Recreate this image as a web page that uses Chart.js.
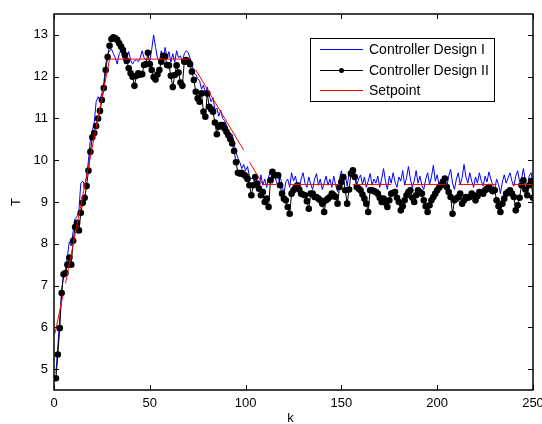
<!DOCTYPE html>
<html>
<head>
<meta charset="utf-8">
<script src="https://cdn.jsdelivr.net/npm/chart.js@4/dist/chart.umd.min.js"></script>
<style>
html,body{margin:0;padding:0;background:#fff;}
canvas{display:block;}
</style>
</head>
<body>
<canvas id="c" width="542" height="424"></canvas>
<script>
// ---- data (k starts at 1) ----
const designI = [
4.90,5.55,6.20,6.90,7.25,7.35,7.70,8.05,7.95,8.30,
8.60,8.65,8.80,9.45,9.50,9.40,9.60,10.00,10.50,10.70,
10.90,11.40,11.52,11.45,11.60,11.85,12.30,12.55,12.62,12.66,
12.55,12.45,12.30,12.55,12.62,12.45,12.30,12.45,12.60,12.40,
12.30,12.38,12.40,12.36,12.45,12.62,12.45,12.40,12.42,12.38,
12.65,13.00,12.70,12.45,12.35,12.62,12.40,12.70,12.45,12.60,
12.35,12.55,12.35,12.62,12.45,12.50,12.35,12.55,12.62,12.58,
12.45,12.30,12.10,12.05,11.95,11.90,11.70,11.80,11.60,11.75,
11.55,11.40,11.50,11.20,11.25,11.05,11.20,11.00,10.95,10.85,
10.70,10.60,10.62,10.40,10.20,10.05,9.95,9.80,9.90,9.75,
9.85,9.62,9.55,9.60,9.40,9.50,9.30,9.65,9.40,9.55,
9.35,9.60,9.75,9.45,9.70,9.50,9.35,9.62,9.42,9.20,
9.48,9.55,9.35,9.70,9.50,9.62,9.40,9.30,9.55,9.70,
9.45,9.35,9.60,9.42,9.30,9.55,9.68,9.40,9.55,9.30,
9.45,9.62,9.40,9.55,9.35,9.62,9.40,9.25,9.55,9.75,
9.50,9.65,9.38,9.70,9.80,9.55,9.72,9.40,9.55,9.65,
9.42,9.60,9.35,9.50,9.68,9.40,9.55,9.45,9.62,9.35,
9.55,9.80,9.50,9.30,9.62,9.45,9.70,9.48,9.35,9.60,
9.50,9.75,9.40,9.58,9.85,9.55,9.35,9.50,9.75,9.45,
9.62,9.40,9.30,9.55,9.70,9.42,9.60,9.88,9.50,9.65,
9.40,9.55,9.45,9.60,9.35,9.62,9.78,9.45,9.30,9.55,
9.70,9.42,9.58,9.90,9.60,9.45,9.70,9.50,9.35,9.60,
9.45,9.70,9.50,9.38,9.62,9.48,9.72,9.55,9.40,9.30,
9.55,9.42,9.20,9.48,9.65,9.45,9.58,9.70,9.50,9.38,
9.62,9.75,9.48,9.55,9.80,9.50,9.30,9.62,9.70,9.45
];
const designII = [
4.78,5.35,5.98,6.82,7.27,7.30,7.50,7.67,7.50,8.07,
8.40,8.50,8.32,8.74,8.98,9.10,9.38,9.75,10.20,10.55,
10.65,10.82,11.00,11.18,11.44,11.73,12.16,12.47,12.74,12.90,
12.94,12.92,12.88,12.80,12.72,12.64,12.52,12.38,12.20,12.08,
12.00,11.78,12.02,12.08,12.05,12.06,12.28,12.30,12.57,12.30,
12.16,11.99,11.93,12.05,12.16,12.36,12.50,12.48,12.28,12.27,
12.02,11.75,12.04,12.27,12.10,11.86,11.78,12.36,12.40,12.36,
12.30,12.12,11.92,11.64,11.48,11.40,11.60,11.16,11.04,11.60,
11.28,11.22,11.16,10.90,10.62,10.80,10.84,10.84,10.76,10.68,
10.60,10.50,10.40,10.22,9.95,9.70,9.68,9.70,9.66,9.62,
9.55,9.40,9.16,9.40,9.60,9.44,9.32,9.16,9.24,9.00,
9.08,8.88,9.52,9.72,9.64,9.64,9.64,9.40,9.20,9.08,
9.04,8.88,8.72,9.20,9.28,9.34,9.40,9.30,9.20,9.18,
9.16,9.02,8.84,9.20,9.20,9.12,9.12,9.08,9.04,8.96,
8.76,9.04,9.08,9.12,9.20,9.16,9.12,8.96,9.36,9.48,
9.60,9.28,8.96,9.30,9.68,9.76,9.60,9.36,9.32,9.28,
9.18,9.08,8.96,8.76,9.28,9.28,9.26,9.24,9.20,9.10,
9.00,9.08,8.98,8.88,9.04,9.20,9.22,9.24,9.10,9.00,
8.80,8.90,9.04,9.16,9.24,9.28,9.10,9.00,9.16,9.28,
9.24,9.20,9.04,8.90,8.76,8.92,9.04,9.12,9.20,9.28,
9.34,9.40,9.48,9.56,9.36,9.24,9.12,8.72,9.04,9.08,
9.12,9.20,8.96,9.04,9.12,9.10,9.12,9.20,9.16,9.04,
9.14,9.24,9.22,9.20,9.28,9.32,9.36,9.30,9.26,9.28,
9.04,8.90,8.76,8.96,9.08,9.20,9.24,9.28,9.20,9.12,
8.80,8.92,9.10,9.40,9.52,9.30,9.16,9.40,9.50,9.10
];
// setpoint drawn as broken segments (null = gap)
const setpointK = [0.5,4.7,5.3, 6,29,71,72, 74,99,100, 102,109,116,119, 123,149,152, 156,176,179, 183,204,207, 211,231,235, 239,250];
const setpointT = [5.85,6.77,null, 7.05,12.42,12.42,null, 12.16,10.24,null, 9.96,9.42,9.42,null, 9.42,9.42,null, 9.42,9.42,null, 9.42,9.42,null, 9.42,9.42,null, 9.42,9.42];
const xTicks = [0,50,100,150,200,250];
const yTicks = [5,6,7,8,9,10,11,12,13];
const seriesNames = ['Controller Design I','Controller Design II','Setpoint'];
const axisTitles = {x:'k', y:'T'};

const FONT = 'Liberation Sans, Arial, sans-serif';

const toXY = (arr) => arr.map((v,i)=>({x:i+1,y:v}));
const spData = setpointK.map((k,i)=>({x:k,y:setpointT[i]}));

const framePlugin = {
  id:'frame',
  afterDraw(chart){
    const {ctx, chartArea:a, scales} = chart;
    ctx.save();
    ctx.strokeStyle = '#000';
    ctx.lineWidth = 1;
    // inward ticks
    ctx.beginPath();
    xTicks.forEach(v=>{
      const px = Math.round(scales.x.getPixelForValue(v))+0.5;
      ctx.moveTo(px, a.bottom); ctx.lineTo(px, a.bottom-5);
      ctx.moveTo(px, a.top); ctx.lineTo(px, a.top+5);
    });
    yTicks.forEach(v=>{
      const py = Math.round(scales.y.getPixelForValue(v))+0.5;
      ctx.moveTo(a.left, py); ctx.lineTo(a.left+5, py);
      ctx.moveTo(a.right, py); ctx.lineTo(a.right-5, py);
    });
    ctx.stroke();
    // frame
    ctx.lineWidth = 1.5;
    ctx.strokeRect(a.left, a.top, a.right-a.left, a.bottom-a.top);
    // axis titles
    ctx.fillStyle = '#000';
    ctx.font = '13px ' + FONT;
    ctx.textAlign = 'center';
    ctx.textBaseline = 'middle';
    ctx.fillText(axisTitles.x, (a.left+a.right)/2 - 3, 418);
    ctx.save();
    ctx.translate(16, 202);
    ctx.rotate(-Math.PI/2);
    ctx.fillText(axisTitles.y, 0, 0);
    ctx.restore();
    // legend
    const bx=310.5, by=38.5, bw=184, bh=63;
    ctx.fillStyle='#fff';
    ctx.fillRect(bx,by,bw,bh);
    ctx.lineWidth=1;
    ctx.strokeStyle='#000';
    ctx.strokeRect(bx,by,bw,bh);
    const rows=[49.5,70.5,90.5];
    const cols=['#0000ff','#000000','#ff0000'];
    rows.forEach((ry,i)=>{
      ctx.strokeStyle=cols[i];
      ctx.lineWidth=1;
      ctx.beginPath(); ctx.moveTo(320,ry); ctx.lineTo(363,ry); ctx.stroke();
      if(i===1){
        ctx.fillStyle='#000';
        ctx.beginPath(); ctx.arc(341.5,ry,2.5,0,Math.PI*2); ctx.fill();
      }
      ctx.fillStyle='#000';
      ctx.font='14px ' + FONT;
      ctx.textAlign='left';
      ctx.textBaseline='middle';
      ctx.fillText(seriesNames[i], 369, ry+0.5);
    });
    ctx.restore();
  }
};

new Chart(document.getElementById('c'), {
  type:'line',
  data:{
    datasets:[
      {label:seriesNames[2], data:spData, borderColor:'#ff0000', borderWidth:1, pointRadius:0, spanGaps:false, order:0, tension:0},
      {label:seriesNames[1], data:toXY(designII), borderColor:'#000000', backgroundColor:'#000000', borderWidth:1, pointRadius:3.3, pointBorderWidth:0, pointBackgroundColor:'#000', order:1, tension:0},
      {label:seriesNames[0], data:toXY(designI), borderColor:'#0000ff', borderWidth:1, pointRadius:0, order:2, tension:0}
    ]
  },
  options:{
    responsive:false,
    animation:false,
    devicePixelRatio:1,
    layout:{padding:{left:0,right:9,top:14,bottom:0}},
    plugins:{legend:{display:false}, tooltip:{enabled:false}},
    scales:{
      x:{
        type:'linear', min:0, max:250,
        afterBuildTicks:(s)=>{ s.ticks = xTicks.map(v=>({value:v})); },
        afterFit:(s)=>{ s.height = 34; s.paddingLeft=0; s.paddingRight=0; },
        ticks:{color:'#000', font:{family:FONT,size:13}, padding:6, maxRotation:0, autoSkip:false},
        grid:{display:false, drawTicks:false},
        border:{display:false}
      },
      y:{
        type:'linear', min:4.5, max:13.5,
        afterBuildTicks:(s)=>{ s.ticks = yTicks.map(v=>({value:v})); },
        afterFit:(s)=>{ s.width = 54; s.paddingTop=0; s.paddingBottom=0; },
        ticks:{color:'#000', font:{family:FONT,size:13}, padding:6, autoSkip:false},
        grid:{display:false, drawTicks:false},
        border:{display:false}
      }
    }
  },
  plugins:[framePlugin]
});
</script>
</body>
</html>
